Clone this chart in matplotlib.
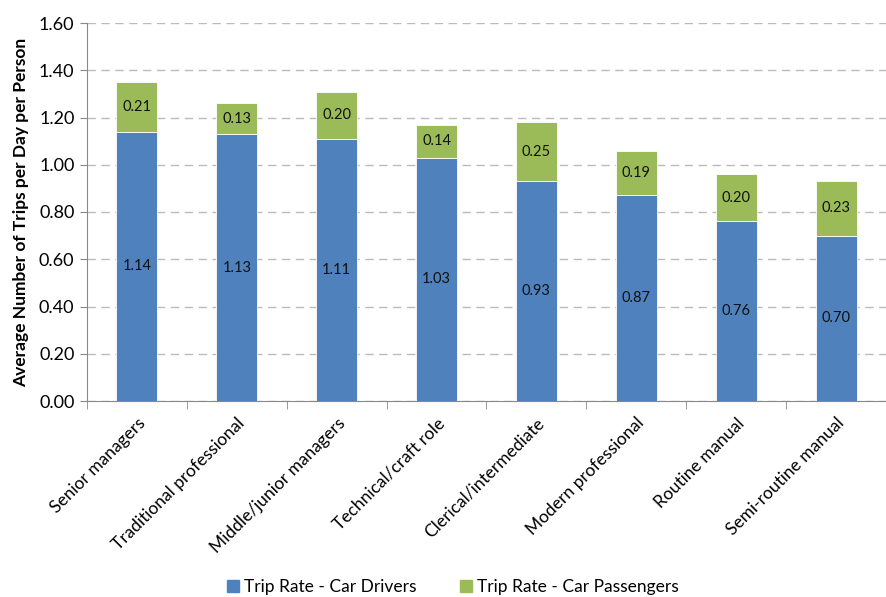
import matplotlib
matplotlib.use("Agg")
import matplotlib.pyplot as plt
import numpy as np
from matplotlib.patches import Patch

categories = ["Senior managers", "Traditional professional", "Middle/junior managers",
              "Technical/craft role", "Clerical/intermediate", "Modern professional",
              "Routine manual", "Semi-routine manual"]
drivers = [1.14, 1.13, 1.11, 1.03, 0.93, 0.87, 0.76, 0.70]
passengers = [0.21, 0.13, 0.20, 0.14, 0.25, 0.19, 0.20, 0.23]
yticks = [0.0, 0.2, 0.4, 0.6, 0.8, 1.0, 1.2, 1.4, 1.6]

blue = "#4F81BD"
green = "#9BBB59"
plt.rcParams['font.family'] = ['Lato', 'DejaVu Sans']

fig = plt.figure(figsize=(8.87, 5.97), dpi=100)
ax = fig.add_axes([87/887, 1-401/597, (886-87)/887, (401-23)/597])
x = np.arange(len(categories))
ax.bar(x, drivers, width=0.41, color=blue, edgecolor="white", linewidth=0.6, zorder=3)
ax.bar(x, passengers, bottom=drivers, width=0.41, color=green, edgecolor="white", linewidth=0.6, zorder=3)
for i in range(len(categories)):
    ax.text(x[i], drivers[i]/2, f"{drivers[i]:.2f}", ha="center", va="center", fontsize=10.5, color="#111111", zorder=4)
    ax.text(x[i], drivers[i]+passengers[i]/2, f"{passengers[i]:.2f}", ha="center", va="center", fontsize=10.5, color="#111111", zorder=4)

ax.set_xlim(-0.5, len(categories)-0.5)
ax.set_ylim(0, 1.6)
ax.set_yticks(yticks)
ax.set_yticklabels([f"{v:.2f}" for v in yticks], fontsize=13)
ax.yaxis.grid(True, color="#BBBBBB", linestyle=(0, (6, 4)), linewidth=1, zorder=0)
ax.set_xticks(x)
ax.set_xticklabels(categories, rotation=45, ha="right", rotation_mode="anchor", fontsize=12.5)
ax.tick_params(axis="x", length=0, pad=10)
ax.set_xticks(np.arange(-0.5, len(categories)), minor=True)
ax.tick_params(axis="x", which="minor", length=6, color="#888888")
ax.tick_params(axis="y", length=5, color="#888888", pad=4)
for s in ["top", "right"]:
    ax.spines[s].set_visible(False)
for s in ["left", "bottom"]:
    ax.spines[s].set_color("#888888")
ax.set_ylabel("Average Number of Trips per Day per Person", fontsize=12.5, fontweight="bold", labelpad=7)

handles = [Patch(color=blue, label="Trip Rate - Car Drivers"),
           Patch(color=green, label="Trip Rate - Car Passengers")]
fig.legend(handles=handles, loc="center", bbox_to_anchor=(453/887, 1-587/597), ncol=2,
           frameon=False, fontsize=12.5, handlelength=0.7, handleheight=0.7, handletextpad=0.3, columnspacing=2.5)
fig.savefig("out.png", dpi=100)
